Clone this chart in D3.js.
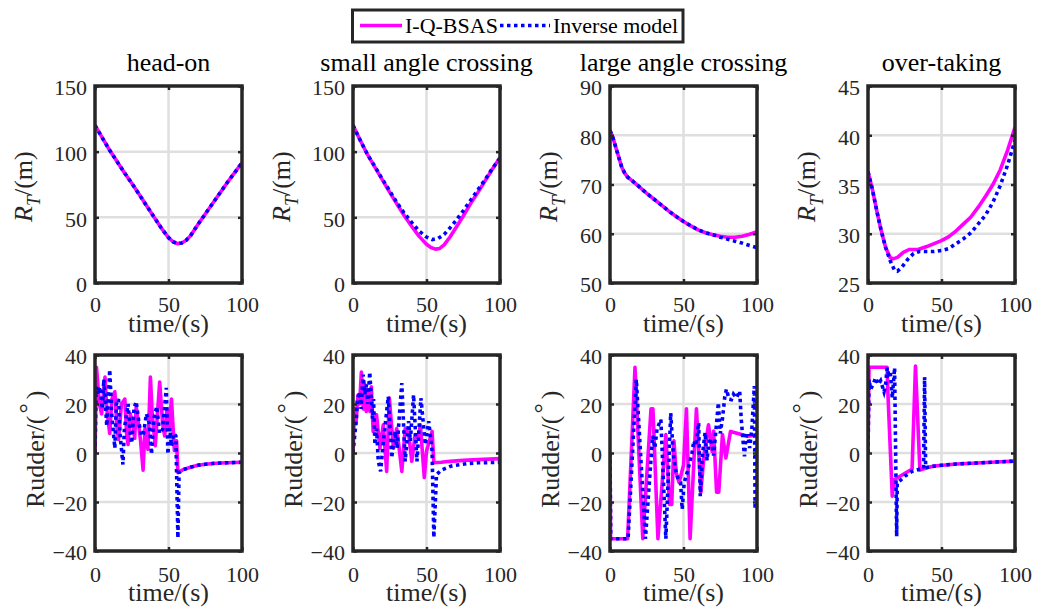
<!DOCTYPE html>
<html><head><meta charset="utf-8">
<script src="https://cdn.jsdelivr.net/npm/d3@7"></script>
<style>body{margin:0;background:#fff}svg{display:block}text{font-family:"Liberation Serif","Times New Roman",serif}</style>
</head><body>
<svg id="c" width="1038" height="612"></svg>
<script>
// ---------- data ----------
const titles = ["head-on", "small angle crossing", "large angle crossing", "over-taking"];
const seriesNames = ["I-Q-BSAS", "Inverse model"];
const timeTicks = [0, 50, 100];
const rtTicks = [[0, 50, 100, 150], [0, 50, 100, 150], [50, 60, 70, 80, 90], [25, 30, 35, 40, 45]];
const rudderTicks = [-40, -20, 0, 20, 40];

// Range R_T (m): [time, value]
const rtHeadOnIQ = [[0,120],[5,110.5],[10,101],[15,92.5],[20,84],[25,76],[30,67.5],[35,59],[40,50.5],[45,42],[50,34.5],[53,31.5],[56,30],[59,30.5],[62,32.5],[65,36],[70,44.5],[75,52.5],[80,60.5],[85,68.5],[90,76.5],[95,84],[100,91.5]];
const rtHeadOnInv = [[0,120],[5,110.5],[10,101],[15,92.5],[20,84],[25,76],[30,67.5],[35,59],[40,50.5],[45,42],[50,34.5],[53,31.5],[56,30],[59,30.5],[62,32.5],[65,36],[70,44.5],[75,52.5],[80,60.5],[85,68.5],[90,76.5],[95,84],[100,91.5]];
const rtSmallIQ = [[0,120],[5,108.5],[10,97.5],[15,88],[20,78.5],[25,69],[30,60],[35,51],[40,43],[45,35.5],[50,29.5],[53,27],[56,25.8],[59,26.3],[62,29],[66,35],[70,42],[75,51],[80,60.5],[85,69],[90,78],[95,87],[100,95.5]];
const rtSmallInv = [[0,120],[5,108.5],[10,97.5],[15,88.5],[20,79],[25,70],[30,61],[35,53],[40,46],[45,39.5],[50,35],[54,33],[58,34],[62,37],[66,42],[70,47.5],[75,55],[80,63],[85,71],[90,79],[95,87.5],[100,95]];
const rtLargeIQ = [[0,81],[2,79.5],[5,76.5],[8,73.5],[10,72.3],[12,71.5],[15,70.8],[20,69.5],[25,68.2],[30,67],[35,65.8],[40,64.6],[45,63.5],[50,62.5],[55,61.6],[60,60.8],[65,60.2],[70,59.8],[75,59.5],[80,59.3],[85,59.3],[90,59.5],[95,59.9],[100,60.4]];
const rtLargeInv = [[0,81],[2,79.5],[5,76.5],[8,73.5],[10,72.3],[12,71.5],[15,70.8],[20,69.5],[25,68.2],[30,67],[35,65.8],[40,64.6],[45,63.5],[50,62.5],[55,61.6],[60,60.8],[65,60.2],[70,59.8],[75,59.3],[80,58.9],[85,58.5],[90,58.1],[95,57.6],[100,57.2]];
const rtOverIQ = [[0,36.3],[3,34.5],[6,32.3],[9,30.3],[12,28.6],[15,27.6],[17,27.45],[20,27.6],[24,28.1],[28,28.4],[34,28.4],[40,28.7],[45,29],[50,29.3],[55,29.7],[60,30.3],[65,31],[70,31.7],[75,32.7],[80,33.8],[85,35],[90,36.5],[95,38.5],[100,40.8]];
const rtOverInv = [[0,36.3],[3,34.5],[6,32.3],[9,30.3],[12,28.6],[15,27.3],[18,26.3],[20,26.2],[23,26.6],[27,27.4],[31,28],[35,28.2],[40,28.2],[45,28.2],[50,28.3],[55,28.5],[60,29],[65,29.5],[70,30.1],[75,31],[80,31.9],[85,33.2],[90,34.9],[95,37],[100,39.5]];

// Rudder angle (deg): [time, value]
const rudHeadOnIQ = [[0,0],[1,35],[3,20],[4.5,16],[6.8,31],[8,18],[10,8],[11.5,22],[13.5,25],[15,10],[16,5.5],[18,20],[20.3,22],[21.5,8],[22.5,3.5],[24,16],[25.5,12],[27,6],[28,19],[30,10],[31,5],[32.7,-7],[34,10],[36,1.5],[37.7,31],[39,15],[41,3],[44,29],[46,12],[47.4,7],[49,18],[50.5,10],[52,22],[54,1],[55.5,5],[56.4,-8],[60,-6.8],[65,-5.8],[70,-5],[75,-4.6],[80,-4.3],[85,-4.1],[90,-4],[95,-3.9],[100,-3.8]];
const rudHeadOnInv = [[0,0],[0.8,27],[2,24],[3.4,27],[5,18],[6,30],[8,11],[10,34],[11.5,15],[13.5,2],[14.5,20],[16,22],[17,8],[19,-4.7],[20,10],[22.5,20],[24,8],[25,4],[26.5,18],[28,21],[30,12],[31.5,7],[33,8],[35,16],[37,12],[38.4,-0.5],[40,14],[42,19],[44,8],[46,9.6],[48.5,26.6],[49.6,-0.5],[51,10],[52,2.8],[53.5,8],[55,7],[56.4,-34.7],[57.2,-8],[60,-6.8],[65,-5.8],[70,-5],[75,-4.6],[80,-4.3],[85,-4.1],[90,-4],[95,-3.9],[100,-3.8]];
const rudSmallIQ = [[0,0],[1,18],[2,12],[3.4,23.7],[4.5,20],[5.7,33],[7,18],[8,28],[9,17],[10.3,25],[11.5,17],[12.5,27],[13.7,8.8],[16,15.6],[18.3,2],[20.6,11.5],[22.9,-7.5],[24.7,22.4],[27.5,2],[29.7,10],[31,4],[33.2,-7.5],[35.5,10],[37.8,8],[40,-3.4],[42.3,7.5],[44.6,6],[45.8,11.5],[48.5,-10],[50,0.7],[53.8,8.8],[55,-4],[60,-3.8],[66,-3.4],[75,-3],[85,-2.7],[100,-2.3]];
const rudSmallInv = [[0,0],[2.3,14],[3,22],[4.6,25],[5.5,18],[6.9,32],[8,24],[9.2,28],[10,20],[11.4,33],[13.3,14],[14,22],[14.9,3.4],[16,10],[17.2,-3.4],[18.8,-7.5],[20.6,4.7],[22,12],[24,23],[26.3,-2],[28.6,8.8],[30,2],[31.5,15],[33.2,28.5],[35.5,-3.4],[37.8,13],[39,5],[41.2,23.7],[43.5,-3.4],[46.2,22.4],[49.2,3.4],[51.5,13],[53.8,0.7],[55,-34.5],[56.8,-8.8],[60,-7],[66.4,-5.4],[70,-5],[77.8,-4.3],[85,-4],[92,-3.9],[100,-3.8]];
const rudLargeIQ = [[0,0],[0.4,-35],[12,-35],[17,35],[22.3,-35],[27.9,18],[29.2,18],[32.6,-35],[38,7.5],[40.5,-21],[42,-21],[43.5,5],[45,-8],[47,-12],[50,-5],[52,18],[54.5,-35],[58.8,18],[61.8,-16],[64,-0.5],[67,11.5],[69.5,0.5],[70.5,9],[72.5,-16],[74,-16],[76.5,7.5],[78.8,-2],[82,8.8],[93.8,6.8],[100,7.5]];
const rudLargeInv = [[0,0],[0.5,-35],[12.3,-35],[17.9,30],[24.1,-35],[29,7],[30.5,2],[32,10],[34.6,13.6],[38,-35],[41.3,16.3],[43,0],[44.6,-6.8],[46,-10],[48,-12],[49.1,-23],[50.5,-12],[52.5,-8],[55.8,0],[57,5],[58.5,3],[60.3,12.3],[61.4,-17.6],[63,0],[64.7,8.3],[66,-3],[67.5,6],[69.2,4],[70.5,-1],[72.5,12.3],[73.7,20.5],[75,8],[76.5,14],[78.1,23],[79.2,26],[81,22],[82.6,21.8],[84,24],[86,22.5],[88.2,25.3],[89.3,13.6],[90.5,5],[91.5,-1.4],[92.5,7],[93.8,7],[95,2],[96.5,10],[98.2,27.3],[98.7,-23],[99.3,10],[100,0]];
const rudOverIQ = [[0,0],[0.7,35],[13,35],[13.5,25],[16.5,-17.6],[17.5,-11],[30,-6.5],[32.3,35.5],[35.3,-7],[40,-6],[45,-5.3],[51,-5],[60,-4.5],[74,-4.1],[87,-3.7],[100,-3.3]];
const rudOverInv = [[0,0],[0.7,30],[1.8,26],[3.5,28],[5.2,30.7],[7,28],[8.6,29.5],[10.9,25],[12,28],[13,34.8],[14,32],[15.2,33],[16.5,22.5],[18.1,34.8],[19.5,-34],[19.9,-12.3],[25,-9.5],[30,-7.5],[35,-6.6],[37.8,-6.3],[38.5,31],[39.2,-6],[42,-5.6],[50,-5],[60,-4.5],[74,-4.1],[87,-3.7],[100,-3.3]];

const rtSeries = [[rtHeadOnIQ, rtHeadOnInv], [rtSmallIQ, rtSmallInv], [rtLargeIQ, rtLargeInv], [rtOverIQ, rtOverInv]];
const rudSeries = [[rudHeadOnIQ, rudHeadOnInv], [rudSmallIQ, rudSmallInv], [rudLargeIQ, rudLargeInv], [rudOverIQ, rudOverInv]];

// ---------- layout ----------
const svg = d3.select("#c");
const colLeft = [95, 353, 610, 868];
const panelW = 147;
const rows = [{top: 86, bottom: 283, tickY: 29, labelY: 49}, {top: 355, bottom: 551, tickY: 31, labelY: 50}];
const axisColor = "#262626";
const colors = ["#ff00ff", "#0000ff"];
const rtLabelOffset = [63, 63, 53, 53];

function panel(ci, ri, data, ticks, domain) {
  const L = colLeft[ci], R = L + panelW, T = rows[ri].top, B = rows[ri].bottom;
  const x = d3.scaleLinear().domain([0, 100]).range([L, R]);
  const y = d3.scaleLinear().domain(domain).range([B, T]);
  const g = svg.append("g");
  const id = "clip" + ci + "_" + ri;
  svg.append("clipPath").attr("id", id).append("rect").attr("x", L).attr("y", T).attr("width", R - L).attr("height", B - T);
  // grid
  g.selectAll(".gx").data(timeTicks.slice(1, -1)).join("line")
    .attr("x1", d => x(d)).attr("x2", d => x(d)).attr("y1", T).attr("y2", B)
    .attr("stroke", "#dfdfdf").attr("stroke-width", 2.5);
  g.selectAll(".gy").data(ticks.slice(1, -1)).join("line")
    .attr("y1", d => y(d)).attr("y2", d => y(d)).attr("x1", L).attr("x2", R)
    .attr("stroke", "#dfdfdf").attr("stroke-width", 2.5);
  // lines
  const line = d3.line().x(d => x(d[0])).y(d => y(d[1]));
  const lg = g.append("g").attr("clip-path", `url(#${id})`);
  lg.append("path").attr("d", line(data[0])).attr("fill", "none").attr("stroke", colors[0]).attr("stroke-width", 3.6).attr("stroke-linejoin", "round");
  lg.append("path").attr("d", line(data[1])).attr("fill", "none").attr("stroke", colors[1]).attr("stroke-width", 3.6).attr("stroke-dasharray", "3.5,3.5");
  // box
  g.append("rect").attr("x", L).attr("y", T).attr("width", R - L).attr("height", B - T)
    .attr("fill", "none").attr("stroke", axisColor).attr("stroke-width", 3.5);
  // axes with inward ticks
  const ax = g.append("g").attr("transform", `translate(0,${B})`)
    .call(d3.axisBottom(x).tickValues(timeTicks).tickSize(-4).tickPadding(0));
  const axT = g.append("g").attr("transform", `translate(0,${T})`)
    .call(d3.axisTop(x).tickValues(timeTicks).tickSize(-4).tickFormat(""));
  const ay = g.append("g").attr("transform", `translate(${L},0)`)
    .call(d3.axisLeft(y).tickValues(ticks).tickSize(-4).tickPadding(8));
  const ayR = g.append("g").attr("transform", `translate(${R},0)`)
    .call(d3.axisRight(y).tickValues(ticks).tickSize(-4).tickFormat(""));
  [ax, axT, ay, ayR].forEach(a => {
    a.attr("font-family", null);
    a.select(".domain").remove();
    a.selectAll(".tick line").attr("stroke", axisColor).attr("stroke-width", 2.5);
    a.selectAll("text").attr("font-family", '"Liberation Serif",serif').attr("font-size", 22).attr("fill", axisColor);
  });
  ax.selectAll("text").attr("y", rows[ri].tickY).attr("dy", 0);
  ay.selectAll("text").attr("dy", "0.4em");
  // x label
  g.append("text").attr("x", (L + R) / 2).attr("y", B + rows[ri].labelY).attr("text-anchor", "middle")
    .attr("font-size", 26).attr("fill", axisColor).text("time/(s)");
  return {L, R, T, B};
}

for (let i = 0; i < 4; i++) {
  const p = panel(i, 0, rtSeries[i], rtTicks[i], [rtTicks[i][0], rtTicks[i][rtTicks[i].length - 1]]);
  svg.append("text").attr("x", (p.L + p.R) / 2).attr("y", 71).attr("text-anchor", "middle")
    .attr("font-size", 26).attr("fill", "#000").text(titles[i]);
  const yl = svg.append("text").attr("transform", `translate(${p.L - rtLabelOffset[i]},222) rotate(-90)`)
    .attr("font-size", 26).attr("fill", axisColor);
  yl.append("tspan").attr("font-style", "italic").text("R");
  yl.append("tspan").attr("font-style", "italic").attr("font-size", 18).attr("dy", 8).text("T");
  yl.append("tspan").attr("dy", -8).text("/(m)");

  const q = panel(i, 1, rudSeries[i], rudderTicks, [-40, 40]);
  const yl2 = svg.append("text").attr("transform", `translate(${q.L - 51},508) rotate(-90)`)
    .attr("font-size", 26).attr("fill", axisColor);
  yl2.append("tspan").text("Rudder/(");
  yl2.append("tspan").attr("dy", -8).attr("dx", 2).text("°");
  yl2.append("tspan").attr("dy", 8).attr("dx", 4).text(")");
}

// legend
const lgd = svg.append("g");
lgd.append("rect").attr("x", 352.5).attr("y", 10).attr("width", 330.5).attr("height", 32)
  .attr("fill", "#fff").attr("stroke", axisColor).attr("stroke-width", 3);
lgd.append("line").attr("x1", 360).attr("x2", 402).attr("y1", 25.5).attr("y2", 25.5)
  .attr("stroke", colors[0]).attr("stroke-width", 3.5);
lgd.append("text").attr("x", 405).attr("y", 33).attr("font-size", 22).attr("fill", "#000").text(seriesNames[0]);
lgd.append("line").attr("x1", 500).attr("x2", 550).attr("y1", 25.5).attr("y2", 25.5)
  .attr("stroke", colors[1]).attr("stroke-width", 3.5).attr("stroke-dasharray", "3.5,3.5");
lgd.append("text").attr("x", 553).attr("y", 33).attr("font-size", 22).attr("fill", "#000").text(seriesNames[1]);
</script>
</body></html>
